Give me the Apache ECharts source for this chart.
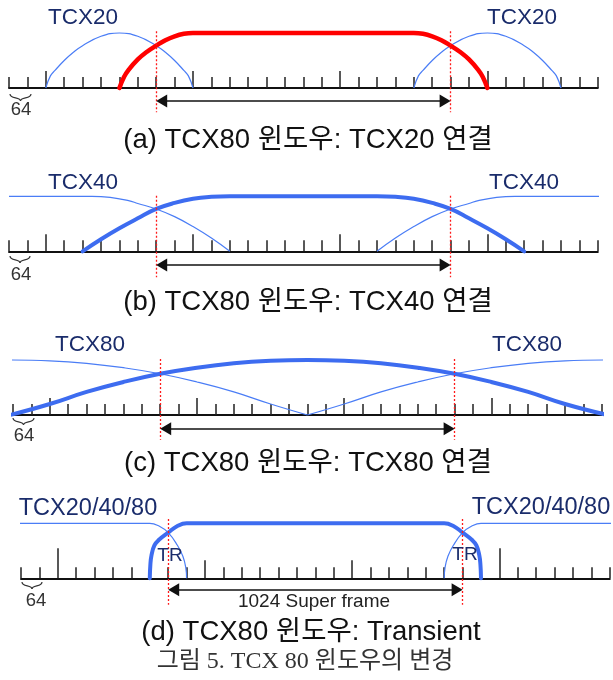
<!DOCTYPE html>
<html><head><meta charset="utf-8">
<script src="https://cdn.jsdelivr.net/npm/echarts@6/dist/echarts.min.js"></script>
<style>html,body{margin:0;padding:0;background:#fff}#c{width:613px;height:680px}</style>
</head><body><div id="c"></div>
<script>
// ---- data (x in samples, y = window gain 0..1) ----
const tickSamples = [0,64,128,192,256,320,384,448,512,576,640,704,768,832,896,960,1024,1088,1152,1216,1280,1344,1408,1472,1536,1600,1664,1728,1792,1856,1920,1984,2048];
const tallTicks = [128,640,1152,1664];
const tallTicksD = [128,1664];
const midTicksD = [640,1152];
const frameStart = 512, frameEnd = 1536;

const aTCX80 = [[384,0],[400,0.2],[416,0.33],[448,0.52],[480,0.66],[512,0.77],[544,0.87],[576,0.94],[608,0.985],[640,1],[1408,1],[1440,0.985],[1472,0.94],[1504,0.87],[1536,0.77],[1568,0.66],[1600,0.52],[1632,0.33],[1648,0.2],[1664,0]];
const aTCX20L = [[128,0],[144,0.22],[160,0.32],[192,0.5],[224,0.65],[256,0.77],[320,0.94],[384,1],[448,0.94],[512,0.77],[544,0.65],[576,0.5],[608,0.32],[624,0.22],[640,0]];
const aTCX20R = [[1408,0],[1424,0.22],[1440,0.32],[1472,0.5],[1504,0.65],[1536,0.77],[1600,0.94],[1664,1],[1728,0.94],[1792,0.77],[1824,0.65],[1856,0.5],[1888,0.32],[1904,0.22],[1920,0]];

const bTCX80 = [[256,0],[320,0.22],[384,0.42],[448,0.6],[512,0.77],[576,0.88],[640,0.955],[704,0.99],[768,1],[1280,1],[1344,0.99],[1408,0.955],[1472,0.88],[1536,0.77],[1600,0.6],[1664,0.42],[1728,0.22],[1792,0]];
const bTCX40L = [[0,1],[288,1],[352,0.98],[416,0.92],[448,0.87],[512,0.77],[576,0.63],[640,0.45],[704,0.24],[768,0]];
const bTCX40R = [[1280,0],[1344,0.24],[1408,0.45],[1472,0.63],[1536,0.77],[1600,0.87],[1632,0.92],[1696,0.98],[1760,1],[2060,1]];

const cTCX80 = [[-10,0],[128,0.2],[256,0.42],[384,0.6],[512,0.75],[640,0.86],[768,0.94],[896,0.985],[1024,1],[1152,0.985],[1280,0.94],[1408,0.86],[1536,0.75],[1664,0.6],[1792,0.42],[1920,0.2],[2068,0]];
const cTCX80L = [[-20,1],[128,0.985],[256,0.94],[384,0.86],[512,0.75],[640,0.6],[768,0.42],[896,0.2],[1024,0]];
const cTCX80R = [[1024,0],[1152,0.2],[1280,0.42],[1408,0.6],[1536,0.75],[1664,0.86],[1792,0.94],[1920,0.985],[2060,1]];

const dTCX80 = [[448,0],[450,0.25],[454,0.42],[464,0.6],[480,0.7],[512,0.83],[544,0.95],[576,1],[1472,1],[1504,0.95],[1536,0.83],[1568,0.7],[1584,0.6],[1594,0.42],[1598,0.25],[1600,0]];
const dTCXL = [[-6,1],[448,1],[480,0.95],[512,0.83],[544,0.6],[563,0.4],[573,0.2],[576,0]];
const dTCXR = [[1472,0],[1475,0.2],[1485,0.4],[1504,0.6],[1536,0.83],[1568,0.95],[1600,1],[2062,1]];

const windowLabels = ['TCX20','TCX40','TCX80','TCX20/40/80'];
const captions = ['(a) TCX80 윈도우: TCX20 연결','(b) TCX80 윈도우: TCX40 연결','(c) TCX80 윈도우: TCX80 연결','(d) TCX80 윈도우: Transient'];
const tickUnitLabel = '64';
const transitionLabel = 'TR';
const superFrameLabel = '1024 Super frame';
const figureCaption = '그림 5. TCX 80 윈도우의 변경';

// ---- layout ----
const SANS = "'Liberation Sans', Arial, 'Noto Sans CJK KR', sans-serif";
const SERIF = "'Liberation Serif', 'DejaVu Serif', 'Noto Sans CJK KR', serif";
const UNIT = 55, GW = 588.8;
const THIN = '#4a7df6', THICK = '#3d6cf0', NAVY = '#1a2c6b';
const panels = [
  {left:9,  base:88,    thick:aTCX80, tc:'#ff0000', tw:4.5, thinL:aTCX20L, thinR:aTCX20R, dotTop:1.03, dotBot:-0.44, arrowY:-0.236,
   lab:[83,18,522,18], labSize:22.5, cap:[308,140], unit:[21,110], brace:[10,94,21,7]},
  {left:9,  base:251.3, thick:bTCX80, tc:THICK, tw:4, thinL:bTCX40L, thinR:bTCX40R, dotTop:1.01, dotBot:-0.47, arrowY:-0.25,
   lab:[83,183,524,183], labSize:22.5, cap:[308,302], unit:[21,275], brace:[10,256,20,7]},
  {left:13, base:415,   thick:cTCX80, tc:THICK, tw:4, thinL:cTCX80L, thinR:cTCX80R, dotTop:1.02, dotBot:-0.45, arrowY:-0.25,
   lab:[90,345,527,345], labSize:22.5, cap:[308,463], unit:[24,436], brace:[13,418,21,7]},
  {left:21, base:578.3, thick:dTCX80, tc:THICK, tw:4, thinL:dTCXL, thinR:dTCXR, dotTop:1.08, dotBot:-0.48, arrowY:-0.21,
   lab:[88,509,541,508], labSize:23.5, cap:[311,632], unit:[36,601], brace:[22,582,20,7]}
];

const grid = [], xAxis = [], yAxis = [], series = [], graphic = [];
function addGrid(p){
  const gi = grid.length;
  grid.push({left:p.left, top:p.base - 1.6*UNIT, width:GW, height:2.2*UNIT});
  yAxis.push({type:'value', gridIndex:gi, min:-0.6, max:1.6, show:false});
  return gi;
}
function catTickAxis(gi, list, len){
  return {type:'category', gridIndex:gi, data:tickSamples.map(String), boundaryGap:false,
    axisLine:{show:false}, axisLabel:{show:false}, splitLine:{show:false},
    axisTick:{show:true, inside:true, length:len, interval:(i,v)=>list.indexOf(Number(v))>=0, lineStyle:{color:'#222', width:1.5}}};
}
function brace(b){
  const x0=b[0], y0=b[1], w=b[2], h=b[3], xm=x0+w/2, x1=x0+w;
  const st = {fill:null, stroke:'#333', lineWidth:1.2};
  return [
    {type:'bezierCurve', z:100, shape:{x1:x0, y1:y0, x2:xm, y2:y0+h, cpx1:x0, cpy1:y0+h*0.75, cpx2:xm, cpy2:y0+h*0.35}, style:st},
    {type:'bezierCurve', z:100, shape:{x1:x1, y1:y0, x2:xm, y2:y0+h, cpx1:x1, cpy1:y0+h*0.75, cpx2:xm, cpy2:y0+h*0.35}, style:st}
  ];
}
panels.forEach((p,k)=>{
  const gi = addGrid(p);
  xAxis.push({type:'value', gridIndex:gi, min:0, max:2048, interval:64,
    axisLine:{show:true, onZero:true, lineStyle:{color:'#111', width:2}},
    axisTick:{show:true, inside:true, length:11, lineStyle:{color:'#222', width:1.5}},
    axisLabel:{show:false}, splitLine:{show:false}});
  const common = {type:'line', xAxisIndex:gi, yAxisIndex:gi, showSymbol:false, symbol:'none', smooth:0.45, clip:false, silent:true, animation:false};
  series.push(Object.assign({}, common, {data:p.thinL, z:2, lineStyle:{color:THIN, width:1.2}}));
  series.push(Object.assign({}, common, {data:p.thinR, z:2, lineStyle:{color:THIN, width:1.2}}));
  series.push(Object.assign({}, common, {data:p.thick, z:3, lineStyle:{color:p.tc, width:p.tw, cap:'round'}}));
  const dot = {color:'#ff1a1a', width:1.3, type:[2,2]};
  const arr = {color:'#111', width:1.5, type:'solid'};
  series.push(Object.assign({}, common, {data:[], z:5, markLine:{silent:true, animation:false, label:{show:false}, symbol:['none','none'],
    data:[
      [{coord:[frameStart,p.dotTop], lineStyle:dot},{coord:[frameStart,p.dotBot]}],
      [{coord:[frameEnd,p.dotTop], lineStyle:dot},{coord:[frameEnd,p.dotBot]}],
      [{coord:[frameStart+19,p.arrowY], lineStyle:arr, symbol:'triangle', symbolSize:[13,11], itemStyle:{color:'#111'}},
       {coord:[frameEnd-19,p.arrowY], symbol:'triangle', symbolSize:[13,11], itemStyle:{color:'#111'}}]
    ]}}));
  const ls = p.labSize;
  graphic.push({type:'text', x:p.lab[0], y:p.lab[1], z:100, style:{text:windowLabels[k], fill:NAVY, fontSize:ls, fontFamily:SANS, textAlign:'center', textVerticalAlign:'middle'}});
  graphic.push({type:'text', x:p.lab[2], y:p.lab[3], z:100, style:{text:windowLabels[k], fill:NAVY, fontSize:ls, fontFamily:SANS, textAlign:'center', textVerticalAlign:'middle'}});
  graphic.push({type:'text', x:p.cap[0], y:p.cap[1], z:100, style:{text:captions[k], fill:'#111', fontSize:27.5, fontFamily:SANS, textAlign:'center', textVerticalAlign:'middle'}});
  graphic.push({type:'text', x:p.unit[0], y:p.unit[1], z:100, style:{text:tickUnitLabel, fill:'#333', fontSize:18.5, fontFamily:SANS, textAlign:'center', textVerticalAlign:'middle'}});
  brace(p.brace).forEach(g=>graphic.push(g));
});
panels.forEach((p,k)=>{
  if(k<3){
    const gi = addGrid(p);
    xAxis.push(catTickAxis(gi, tallTicks, 17));
  } else {
    const g1 = addGrid(p);
    xAxis.push(catTickAxis(g1, tallTicksD, 30));
    const g2 = addGrid(p);
    xAxis.push(catTickAxis(g2, midTicksD, 18));
  }
});
graphic.push({type:'text', x:170, y:556, z:100, style:{text:transitionLabel, fill:NAVY, fontSize:19, fontFamily:SANS, textAlign:'center', textVerticalAlign:'middle'}});
graphic.push({type:'text', x:465, y:555, z:100, style:{text:transitionLabel, fill:NAVY, fontSize:19, fontFamily:SANS, textAlign:'center', textVerticalAlign:'middle'}});
graphic.push({type:'text', x:314, y:602, z:100, style:{text:superFrameLabel, fill:'#222', fontSize:19, fontFamily:SANS, textAlign:'center', textVerticalAlign:'middle'}});
graphic.push({type:'text', x:305, y:662, z:100, style:{text:figureCaption, fill:'#333', fontSize:24, fontFamily:SERIF, textAlign:'center', textVerticalAlign:'middle'}});

const chart = echarts.init(document.getElementById('c'), null, {renderer:'canvas'});
chart.setOption({animation:false, backgroundColor:'#fff', grid, xAxis, yAxis, series, graphic});
</script></body></html>
